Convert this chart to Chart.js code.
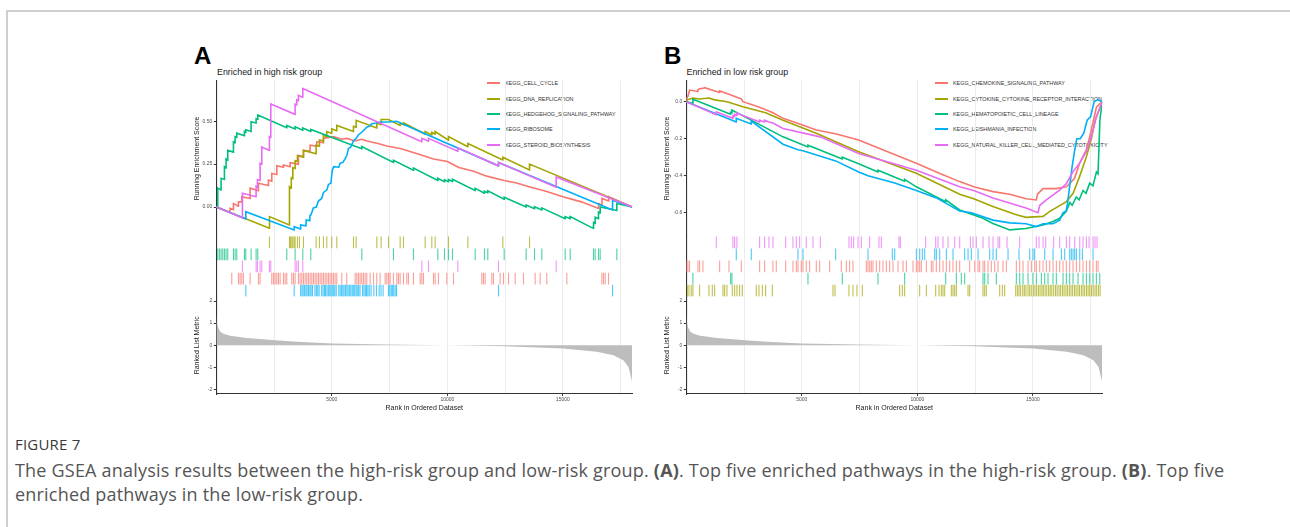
<!DOCTYPE html>
<html>
<head>
<meta charset="utf-8">
<script src="https://cdn.jsdelivr.net/npm/chart.js@4.4.1/dist/chart.umd.min.js"></script>
<style>
  body { margin: 0; background: #fff; }
  #page { position: relative; width: 1290px; height: 527px; overflow: hidden; font-family: "Liberation Sans", Arial, sans-serif; }
  .frame-top { position: absolute; left: 6px; top: 10px; width: 1284px; height: 1.5px; background: #cfcfcf; }
  .frame-left { position: absolute; left: 6px; top: 10px; width: 1.5px; height: 517px; background: #cfcfcf; }
  .letter { position: absolute; font: bold 24px "Liberation Sans", Arial, sans-serif; color: #000; line-height: 1; }
  .subtitle { position: absolute; font-size: 8.9px; color: #1a1a1a; line-height: 1; white-space: nowrap; }
  .legend { position: absolute; font-size: 5.4px; color: #333; z-index: 0; }
  .legend .row { height: 15.4px; display: flex; align-items: center; white-space: nowrap; }
  .legend .key { width: 13px; height: 2px; margin-right: 5px; }
  canvas { position: absolute; z-index: 1; }
  .caption { position: absolute; left: 15px; font-family: "Open Sans", "Noto Sans", sans-serif; color: #555; white-space: nowrap; }
  .fig-label { top: 434px; font-size: 15px; color: #3a3a3a; letter-spacing: 0.2px; }
  .fig-text { top: 458px; font-size: 18px; line-height: 24px; letter-spacing: 0.2px; }
</style>
</head>
<body>
<div id="page">
  <div class="frame-top"></div>
  <div class="frame-left"></div>

  <div class="letter" style="left:194px; top:44px;">A</div>
  <div class="subtitle" style="left:217px; top:67.5px;">Enriched in high risk group</div>
  <div class="legend" id="legendA" style="left:487px; top:75.6px;"></div>
  <canvas id="panelA" width="495" height="360" style="left:150px; top:60px;"></canvas>

  <div class="letter" style="left:664px; top:44px;">B</div>
  <div class="subtitle" style="left:686.5px; top:67.5px;">Enriched in low risk group</div>
  <div class="legend" id="legendB" style="left:935px; top:75.6px;"></div>
  <canvas id="panelB" width="495" height="360" style="left:620.2px; top:60px;"></canvas>

  <div class="caption fig-label">FIGURE 7</div>
  <div class="caption fig-text">The GSEA analysis results between the high-risk group and low-risk group. <b>(A)</b>. Top five enriched pathways in the high-risk group. <b>(B)</b>. Top five<br>enriched pathways in the low-risk group.</div>
</div>

<script>
// ---- shared axis values ----
const rankMax = 18000;
const rankTicks = [5000, 10000, 15000];
const rankGrid = [2500, 5000, 7500, 10000, 12500, 15000, 17500];
const metricTicks = [-2, -1, 0, 1, 2];
const esTicksA = [0, 0.25, 0.5];
const esTicksB = [0, -0.2, -0.4, -0.6];

const setColors = ['#F8766D', '#A3A500', '#00BF7D', '#00B0F6', '#E76BF3'];

// ranked list metric (same ranked list in both panels)
const metricRank  = [0, 20, 90, 165, 310, 600, 1320, 2550, 3480, 5000, 7480, 9980, 12460, 15000, 16470, 17190, 17620, 17840, 17985, 18000];
const metricValue = [1.4, 1.0, 0.78, 0.62, 0.52, 0.43, 0.33, 0.22, 0.15, 0.08, 0.03, 0.0, -0.05, -0.15, -0.3, -0.46, -0.68, -0.99, -1.6, -2.05];

// ---- panel A: enriched in high risk group ----
const namesA = ['KEGG_CELL_CYCLE', 'KEGG_DNA_REPLICATION', 'KEGG_HEDGEHOG_SIGNALING_PATHWAY', 'KEGG_RIBOSOME', 'KEGG_STEROID_BIOSYNTHESIS'];
const rugOrderA = ['KEGG_DNA_REPLICATION', 'KEGG_HEDGEHOG_SIGNALING_PATHWAY', 'KEGG_STEROID_BIOSYNTHESIS', 'KEGG_CELL_CYCLE', 'KEGG_RIBOSOME'];

const esCellCycle = [[0,0],[590,-0.03],[597,-0.008],[740,-0.015],[742,0.02],[955,0.005],[958,0.03],[1100,0.03],[1102,0.06],[1460,0.05],[1463,0.11],[1820,0.095],[1824,0.138],[2250,0.125],[2257,0.157],[2395,0.15],[2401,0.196],[2610,0.19],[2618,0.24],[2900,0.232],[2906,0.245],[3190,0.235],[3196,0.258],[3550,0.25],[3555,0.3],[3765,0.295],[3772,0.33],[4055,0.325],[4061,0.36],[4345,0.355],[4350,0.38],[4630,0.375],[4638,0.4],[5070,0.41],[5430,0.395],[5650,0.4],[6000,0.385],[6300,0.395],[6512,0.385],[7000,0.37],[7378,0.355],[8000,0.34],[8700,0.31],[9400,0.28],[10000,0.265],[10500,0.23],[11100,0.21],[11706,0.18],[12460,0.155],[13000,0.14],[13500,0.12],[14300,0.09],[15000,0.06],[15800,0.03],[16540,-0.008],[16545,0.02],[16690,0.01],[16692,0.05],[16980,0.035],[16982,0.06],[18000,0]];
const esDnaReplication = [[0,0],[2300,-0.124],[2302,-0.056],[3160,-0.105],[3167,0.118],[3240,0.11],[3245,0.17],[3308,0.165],[3312,0.23],[3408,0.225],[3412,0.27],[3508,0.265],[3512,0.3],[3765,0.29],[3772,0.33],[4315,0.31],[4320,0.36],[4460,0.355],[4464,0.39],[4633,0.385],[4637,0.42],[4778,0.41],[4781,0.44],[4995,0.43],[4997,0.455],[5212,0.445],[5214,0.475],[5933,0.44],[5937,0.47],[6048,0.465],[6052,0.505],[6943,0.46],[6947,0.49],[7130,0.48],[7134,0.51],[7450,0.51],[7953,0.475],[7957,0.49],[8098,0.48],[8101,0.49],[9036,0.425],[9039,0.44],[9324,0.42],[9327,0.435],[9468,0.425],[9471,0.44],[10046,0.39],[10049,0.41],[10883,0.352],[10886,0.37],[12398,0.274],[12401,0.29],[13553,0.216],[13556,0.25],[18000,0]];
const esHedgehog = [[0,0],[62,-0.003],[63,0.11],[205,0.1],[208,0.167],[350,0.16],[352,0.235],[422,0.228],[424,0.28],[494,0.273],[496,0.33],[740,0.32],[742,0.38],[812,0.375],[814,0.41],[884,0.405],[886,0.43],[1215,0.415],[1218,0.44],[1274,0.435],[1276,0.45],[1503,0.44],[1506,0.497],[1720,0.49],[1723,0.515],[1792,0.512],[1795,0.536],[3048,0.462],[3050,0.475],[3409,0.455],[3411,0.468],[3741,0.448],[3743,0.46],[4087,0.44],[4089,0.452],[6295,0.34],[6297,0.352],[7666,0.26],[7668,0.272],[8532,0.215],[8534,0.227],[9586,0.155],[9588,0.167],[9874,0.147],[9876,0.159],[10047,0.148],[10049,0.16],[10220,0.149],[10222,0.161],[11201,0.097],[11203,0.109],[11605,0.08],[11607,0.092],[11749,0.083],[11751,0.095],[12457,0.045],[12459,0.057],[13409,0.0],[13411,0.012],[13770,-0.01],[13772,0.002],[14087,-0.017],[14089,-0.005],[15097,-0.068],[15099,-0.056],[15314,-0.068],[15316,-0.056],[16250,-0.12],[16325,-0.124],[16327,-0.09],[16395,-0.095],[16397,-0.06],[16540,-0.068],[16542,-0.03],[16612,-0.035],[16614,0.0],[17333,-0.02],[17335,0.02],[18000,0]];
const esRibosome = [[0,0],[1276,-0.07],[1277,-0.027],[3368,-0.134],[3370,-0.115],[3640,-0.128],[3650,-0.105],[3880,-0.11],[3890,-0.075],[4040,-0.08],[4050,-0.05],[4100,-0.045],[4200,-0.005],[4330,0.0],[4420,0.035],[4560,0.05],[4640,0.085],[4790,0.1],[4850,0.13],[4960,0.14],[5020,0.215],[5080,0.235],[5300,0.232],[5360,0.255],[5480,0.26],[5570,0.28],[5650,0.3],[5720,0.34],[5820,0.35],[5930,0.385],[6050,0.4],[6150,0.42],[6330,0.44],[6510,0.465],[6620,0.47],[6730,0.485],[6930,0.49],[7090,0.495],[7450,0.495],[7800,0.5],[12213,0.24],[12215,0.26],[17148,-0.017],[17150,0.04],[18000,0]];
const esSteroid = [[0,0],[1130,-0.064],[1131,0.08],[1720,0.06],[1723,0.12],[1779,0.115],[1781,0.16],[1893,0.155],[1896,0.255],[1965,0.25],[1968,0.35],[2298,0.33],[2300,0.41],[2355,0.405],[2358,0.6],[3408,0.54],[3411,0.6],[3480,0.595],[3483,0.625],[3552,0.62],[3555,0.65],[3740,0.64],[3743,0.69],[8891,0.38],[8894,0.4],[9180,0.383],[9183,0.4],[10450,0.325],[10453,0.345],[12210,0.24],[12213,0.26],[14707,0.115],[14710,0.175],[18000,0]];

const hitsCellCycle = [670,958,1030,1102,1175,1463,1824,1896,2401,2474,2546,2618,2690,2762,2906,2978,3050,3267,3339,3411,3555,3628,3700,3772,3844,3916,3988,4061,4133,4205,4277,4350,4422,4494,4566,4638,4710,4782,4854,4926,4998,5070,5142,5215,5431,5647,6008,6080,6152,6225,6297,6369,6441,6513,6658,6802,6946,7090,7307,7379,7451,7523,7668,7812,7884,7956,8101,8245,8317,8533,8822,8894,8966,9399,9471,9615,9976,10265,11491,11563,11635,11924,11996,12285,12430,12646,12935,13295,13800,14017,14305,15171,16686,16758,16830,16974];
const hitsDnaReplication = [2300,3167,3210,3268,3311,3369,3411,3512,3599,3772,4320,4464,4637,4781,4997,5214,5937,6052,6947,7134,7452,7957,8101,9039,9327,9471,10049,10886,12401,13556];
const hitsHedgehog = [63,136,208,280,352,424,496,742,814,886,1218,1276,1506,1723,1795,3050,3411,3743,4089,6297,7668,8534,9588,9876,10049,10222,11203,11607,11751,12459,13411,13772,14089,15099,15316,16325,16397,16542,16614,17335];
const hitsRibosome = [1277,3370,3650,3710,3760,3820,3880,3930,3990,4050,4100,4160,4270,4330,4390,4450,4560,4620,4680,4730,4790,4850,4910,4960,5020,5080,5130,5190,5300,5360,5420,5480,5530,5590,5650,5700,5760,5820,5880,5930,5990,6050,6100,6160,6220,6330,6390,6450,6500,6560,6620,6700,6820,6930,7050,7130,7220,7450,7510,7570,7620,7680,7740,7800,12215,17150];
const hitsSteroid = [1131,1723,1781,1896,1968,2300,2358,3411,3483,3555,3743,8894,9183,10453,12213,14710];

// ---- panel B: enriched in low risk group ----
const namesB = ['KEGG_CHEMOKINE_SIGNALING_PATHWAY', 'KEGG_CYTOKINE_CYTOKINE_RECEPTOR_INTERACTION', 'KEGG_HEMATOPOIETIC_CELL_LINEAGE', 'KEGG_LEISHMANIA_INFECTION', 'KEGG_NATURAL_KILLER_CELL_MEDIATED_CYTOTOXICITY'];
const rugOrderB = ['KEGG_NATURAL_KILLER_CELL_MEDIATED_CYTOTOXICITY', 'KEGG_LEISHMANIA_INFECTION', 'KEGG_CHEMOKINE_SIGNALING_PATHWAY', 'KEGG_HEMATOPOIETIC_CELL_LINEAGE', 'KEGG_CYTOKINE_CYTOKINE_RECEPTOR_INTERACTION'];

const esChemokine = [[0,0],[5,0.015],[71,0.03],[143,0.063],[500,0.055],[504,0.065],[576,0.07],[720,0.072],[790,0.076],[1440,0.05],[1443,0.058],[1846,0.04],[2380,0.015],[2450,0.0],[3173,-0.03],[3750,-0.06],[4185,-0.09],[5000,-0.125],[5625,-0.153],[6500,-0.175],[7460,-0.207],[8500,-0.26],[9955,-0.333],[11000,-0.39],[11830,-0.432],[12440,-0.46],[13270,-0.486],[14000,-0.5],[14700,-0.525],[15150,-0.531],[15200,-0.5],[15440,-0.47],[16000,-0.47],[16450,-0.46],[16800,-0.415],[17020,-0.333],[17310,-0.26],[17460,-0.19],[17750,-0.03],[18000,0]];
const esCytokine = [[0,0],[42,0.01],[287,0.02],[576,0.015],[980,0.02],[1226,0.01],[1760,0.0],[2450,-0.027],[3433,-0.06],[4185,-0.1],[5625,-0.17],[7460,-0.27],[9955,-0.387],[11830,-0.5],[12440,-0.525],[13270,-0.567],[14250,-0.61],[14700,-0.625],[15440,-0.62],[15720,-0.594],[16450,-0.54],[16740,-0.495],[17020,-0.405],[17310,-0.3],[17530,-0.2],[17700,-0.1],[18000,0]];
const esHematopoietic = [[0,0],[285,-0.009],[287,0.013],[1916,-0.068],[1918,-0.058],[1974,-0.06],[1976,-0.045],[4185,-0.19],[5264,-0.245],[5266,-0.235],[6750,-0.31],[6752,-0.3],[7460,-0.335],[8294,-0.38],[8296,-0.37],[9448,-0.43],[9450,-0.42],[9955,-0.46],[11225,-0.54],[11227,-0.53],[11830,-0.585],[12840,-0.63],[13270,-0.658],[14000,-0.693],[14700,-0.685],[15440,-0.666],[15870,-0.648],[16160,-0.63],[16440,-0.594],[16600,-0.545],[16700,-0.56],[16880,-0.515],[17000,-0.53],[17170,-0.48],[17300,-0.495],[17460,-0.44],[17600,-0.455],[17750,-0.38],[17820,-0.39],[17900,-0.1],[18000,0]];
const esLeishmania = [[0,0],[2160,-0.11],[2163,-0.09],[2810,-0.12],[2812,-0.105],[4185,-0.23],[4833,-0.26],[5049,-0.265],[6464,-0.32],[7460,-0.38],[7864,-0.4],[9019,-0.44],[9955,-0.48],[10822,-0.52],[11830,-0.591],[12337,-0.6],[13270,-0.64],[14000,-0.655],[14700,-0.66],[15150,-0.675],[15440,-0.66],[15870,-0.66],[16160,-0.64],[16300,-0.6],[16440,-0.59],[16500,-0.55],[16600,-0.45],[16700,-0.35],[16800,-0.27],[16900,-0.2],[17050,-0.2],[17200,-0.17],[17350,-0.1],[17500,-0.08],[17650,0.0],[17800,0.01],[18000,0]];
const esNkCytotoxicity = [[0,0],[1295,-0.07],[1297,-0.055],[2017,-0.09],[2019,-0.075],[2091,-0.08],[2093,-0.068],[2188,-0.075],[2190,-0.062],[3171,-0.11],[3173,-0.1],[3387,-0.11],[3389,-0.1],[3577,-0.11],[3750,-0.115],[4185,-0.145],[5800,-0.19],[7460,-0.28],[9955,-0.37],[11830,-0.46],[12440,-0.48],[13270,-0.52],[14700,-0.575],[15220,-0.6],[15300,-0.56],[15580,-0.531],[16160,-0.478],[16450,-0.442],[16740,-0.378],[17020,-0.333],[17310,-0.27],[17550,-0.18],[17750,-0.08],[18000,0]];

const hitsChemokine = [5,71,143,504,576,720,1443,1846,2380,3173,3390,3750,3894,4300,4617,4761,4833,4977,5050,5194,5338,5626,5771,6204,6709,6925,7069,7214,7791,7863,7935,8008,8080,8224,8369,8513,8657,8802,8946,9163,9379,9523,9812,9956,10028,10100,10173,10389,10605,10677,10822,10966,11110,11255,11399,11543,11688,11832,12265,12481,12626,12698,12842,12914,13058,13202,13347,13491,13707,13852,14285,14429,14573,14790,14934,15078,15150,15295,15439,15583,15728,15872,16016,16161,16305,16449,16594,16738,16882,17026,17171,17315,17459,17603,17748,17820];
const hitsCytokine = [42,114,215,287,576,980,1125,1226,1587,1659,1760,1991,2092,2193,2308,2424,3030,3145,3290,3433,3722,6348,6435,7040,7214,7387,7618,9234,9349,9450,10100,10389,10793,10937,11038,11110,11183,11471,11543,11615,11688,12193,12265,12842,12914,12986,13563,13678,13779,14256,14330,14400,14470,14560,14630,14700,14790,14860,14930,15020,15090,15160,15240,15310,15390,15450,15530,15600,15680,15750,15820,15900,15980,16050,16130,16200,16280,16350,16430,16500,16580,16650,16720,16800,16870,16950,17020,17100,17170,17240,17320,17390,17460,17540,17610,17690,17760,17840,17910];
const hitsHematopoietic = [287,1918,1976,5266,6752,8296,9450,11227,11688,11904,12048,12842,12914,13058,13419,14285,14429,14573,14790,15006,15150,15367,15511,15655,15872,16016,16305,16449,16594,16738,16954,17171,17315,17459,17603,17748,17892];
const hitsLeishmania = [2163,2812,4833,5049,6464,7864,8918,9019,9957,10101,10216,10317,10750,10822,10966,11255,11543,12048,12193,12337,12626,13131,13275,13419,13924,14400,14862,15006,15078,15511,15872,16233,16377,16594,16666,16738,16810,16882,17027,17142,17604];
const hitsNkCytotoxicity = [1297,2019,2091,2190,3173,3389,3577,3750,4300,4616,4761,4905,5193,5483,5800,7040,7142,7243,7430,7575,7935,8340,8440,9205,9263,10360,10793,10894,11110,11327,11615,11832,12294,12409,12553,12842,13102,13275,13491,13563,13881,14429,15150,15266,15439,15555,15901,16161,16450,16594,16810,17027,17171,17316,17431,17604,17690,17777];

const panels = [
  { canvas: 'panelA', legend: 'legendA', names: namesA, rugOrder: rugOrderA,
    es: [esCellCycle, esDnaReplication, esHedgehog, esRibosome, esSteroid],
    hits: [hitsCellCycle, hitsDnaReplication, hitsHedgehog, hitsRibosome, hitsSteroid],
    esMin: -0.17, esMax: 0.736, esTicks: esTicksA, esDigits: 2 },
  { canvas: 'panelB', legend: 'legendB', names: namesB, rugOrder: rugOrderB,
    es: [esChemokine, esCytokine, esHematopoietic, esLeishmania, esNkCytotoxicity],
    hits: [hitsChemokine, hitsCytokine, hitsHematopoietic, hitsLeishmania, hitsNkCytotoxicity],
    esMin: -0.727, esMax: 0.1135, esTicks: esTicksB, esDigits: 1 }
];

function withAlpha(hex, a) {
  const n = parseInt(hex.slice(1), 16);
  return 'rgba(' + (n >> 16) + ',' + ((n >> 8) & 255) + ',' + (n & 255) + ',' + a + ')';
}

const axisColor = '#333';
const tickFont = { size: 5, family: '"Liberation Sans", Arial, sans-serif' };
const titleFont = { size: 7, family: '"Liberation Sans", Arial, sans-serif' };

function leftAxis(extra) {
  return Object.assign({
    type: 'linear',
    position: 'left',
    stack: 'gsea',
    border: { color: axisColor, width: 1.1 },
    grid: { color: 'rgba(0,0,0,0)', tickColor: axisColor, tickLength: 2.5 },
    ticks: { font: tickFont, color: '#4d4d4d', padding: 1.5 },
    afterFit: function (scale) { scale.width = 66.3; }
  }, extra);
}

function buildLegend(p) {
  const box = document.getElementById(p.legend);
  p.names.forEach(function (name, i) {
    const row = document.createElement('div');
    row.className = 'row';
    row.innerHTML = '<span class="key" style="background:' + setColors[i] + '"></span>' + name;
    box.appendChild(row);
  });
}

function buildPanel(p) {
  const datasets = [];

  p.names.forEach(function (name, i) {
    datasets.push({
      type: 'line',
      label: name,
      data: p.es[i].map(function (pt) { return { x: pt[0], y: pt[1] }; }),
      yAxisID: 'yES',
      borderColor: setColors[i],
      borderWidth: 1.6,
      pointRadius: 0,
      tension: 0,
      fill: false,
      order: 10 - i
    });
  });

  p.rugOrder.forEach(function (name, row) {
    const i = p.names.indexOf(name);
    const rowY = p.rugOrder.length - row - 0.5;
    datasets.push({
      type: 'scatter',
      label: name + ' hits',
      data: p.hits[i].map(function (r) { return { x: r, y: rowY }; }),
      yAxisID: 'yHit',
      pointStyle: 'line',
      pointRotation: 90,
      pointRadius: 5.9,
      pointBorderWidth: 1.1,
      borderColor: withAlpha(setColors[i], 0.7),
      pointBorderColor: withAlpha(setColors[i], 0.7),
      order: 20
    });
  });

  datasets.push({
    type: 'line',
    label: 'Ranked List Metric',
    data: metricRank.map(function (r, k) { return { x: r, y: metricValue[k] }; }),
    yAxisID: 'yRank',
    borderWidth: 0,
    borderColor: 'rgba(0,0,0,0)',
    backgroundColor: '#bdbdbd',
    pointRadius: 0,
    fill: 'origin',
    order: 30
  });

  new Chart(document.getElementById(p.canvas), {
    type: 'line',
    data: { datasets: datasets },
    options: {
      responsive: false,
      animation: false,
      events: [],
      layout: { padding: { left: 0, top: 20.7, right: 12.8, bottom: 0 } },
      plugins: { legend: { display: false }, tooltip: { enabled: false } },
      scales: {
        x: {
          type: 'linear',
          position: 'bottom',
          min: 0,
          max: rankMax,
          afterBuildTicks: function (scale) { scale.ticks = rankGrid.map(function (v) { return { value: v }; }); },
          ticks: {
            autoSkip: false, maxRotation: 0, font: tickFont, color: '#4d4d4d', padding: 1,
            callback: function (v) { return rankTicks.includes(v) ? String(v) : ''; }
          },
          grid: {
            color: '#ebebeb', lineWidth: 1, tickLength: 2,
            tickColor: function (ctx) { return ctx.tick && rankTicks.includes(ctx.tick.value) ? axisColor : 'rgba(0,0,0,0)'; }
          },
          border: { color: axisColor, width: 1.1 },
          title: { display: true, text: 'Rank in Ordered Dataset', font: titleFont, color: '#1a1a1a', padding: { top: 0, bottom: 7.6 } },
          afterFit: function (scale) { scale.height = 26; }
        },
        yES: leftAxis({
          stackWeight: 155.5, weight: 3, min: p.esMin, max: p.esMax,
          afterBuildTicks: function (scale) { scale.ticks = p.esTicks.map(function (v) { return { value: v }; }); },
          ticks: { font: tickFont, color: '#4d4d4d', padding: 1.5, callback: function (v) { return v.toFixed(p.esDigits); } },
          title: { display: true, text: 'Running Enrichment Score', font: titleFont, color: '#1a1a1a', padding: { top: 42.9, bottom: 0 } }
        }),
        yHit: leftAxis({
          stackWeight: 60.5, weight: 2, min: 0, max: 5,
          ticks: { display: false },
          grid: { display: false }
        }),
        yRank: leftAxis({
          stackWeight: 97.3, weight: 1, min: -2.21, max: 2.195,
          afterBuildTicks: function (scale) { scale.ticks = metricTicks.map(function (v) { return { value: v }; }); },
          ticks: { font: tickFont, color: '#4d4d4d', padding: 1.5, callback: function (v) { return String(v); } },
          title: { display: true, text: 'Ranked List Metric', font: titleFont, color: '#1a1a1a', padding: { top: 42.9, bottom: 0 } }
        })
      }
    }
  });
}

panels.forEach(function (p) {
  buildLegend(p);
  buildPanel(p);
});
</script>
</body>
</html>
